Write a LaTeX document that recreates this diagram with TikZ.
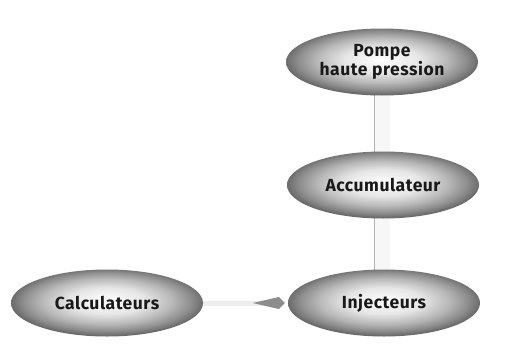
\documentclass[tikz,border=0pt]{standalone}
\usepackage{fontspec}
\setmainfont{Fira Sans}
\usetikzlibrary{shapes.geometric,arrows.meta,backgrounds}

% gray ball-like fill for the ellipses: light centre, darker rim
\pgfdeclareradialshading{ovalgray}{\pgfpoint{0bp}{2bp}}{%
  color(0bp)=(white);
  color(10bp)=(white!90!black);
  color(17bp)=(white!72!black);
  color(22bp)=(white!55!black);
  color(26bp)=(white!38!black);
  color(50bp)=(white!38!black)}

\tikzset{
  oval/.style={ellipse, shading=ovalgray, minimum width=192pt, minimum height=67pt,
    inner sep=0pt, align=center, text=black!90,
    font=\fontsize{17.5}{15}\selectfont\bfseries\addfontfeatures{LetterSpace=3}},
  pipe/.style={draw=black!30, line width=0.5pt, double=black!3, double distance=15pt},
  feed/.style={draw=black!7, line width=5pt,
    -{Kite[length=32pt, width=12pt, inset=26pt, fill=black!45, color=black!45]}}
}

\begin{document}
\begin{tikzpicture}[x=1pt, y=1pt]
  \useasboundingbox (0,0) rectangle (506,-351);

  % the four components
  \node[oval] (pompe) at (382,-62) {Pompe\\haute pression};
  \node[oval] (accu)  at (383,-185) {Accumulateur};
  \node[oval] (inj)   at (384,-303) {Injecteurs};
  \node[oval] (calc)  at (107,-303) {Calculateurs};

  % connectors, kept behind the ellipses
  \begin{scope}[on background layer]
    \path[pipe] ([yshift=4pt]pompe.south) -- ([yshift=-4pt]pompe.south |- accu.north);
    \path[pipe] ([yshift=4pt]pompe.south |- accu.south) -- ([yshift=-4pt]pompe.south |- inj.north);
    \draw[feed] ([xshift=-4pt]calc.east) -- ([xshift=-3pt]inj.west);
  \end{scope}
\end{tikzpicture}
\end{document}
